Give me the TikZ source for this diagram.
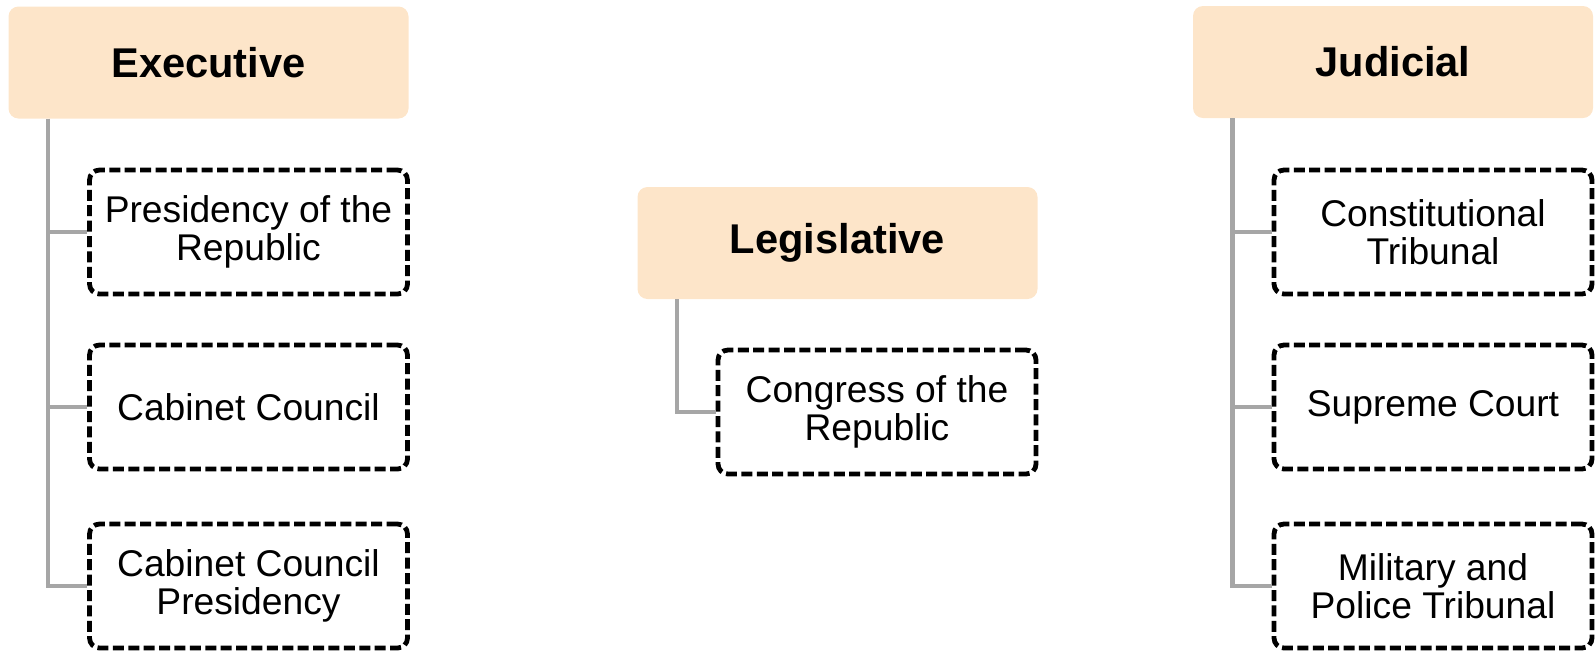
\documentclass[tikz,border=0pt]{standalone}
\usepackage{fontspec}
\setmainfont{Liberation Sans}
\definecolor{branchfill}{HTML}{FDE5C9}
\definecolor{linkgray}{HTML}{A6A6A6}
\tikzset{
  branch/.style={fill=branchfill, rounded corners=5pt, minimum width=200pt,
    minimum height=56pt, inner sep=0pt, font=\fontsize{20.8}{23}\selectfont\bfseries},
  organ/.style={draw=black, line width=2.4pt, dash pattern=on 5.5pt off 2.2pt,
    rounded corners=5pt, minimum width=159pt, minimum height=62pt, inner sep=0pt,
    align=center, font=\fontsize{18.6}{19.2}\selectfont},
  link/.style={draw=linkgray, line width=2.3pt},
}
\begin{document}
\begin{tikzpicture}[x=0.5pt, y=-0.5pt]
    \useasboundingbox (0,0) rectangle (1596,655);
    % branches
    \node[branch] (exec) at (208.5,62.5) {Executive};
    \node[branch] (legis) at (837.5,243) {Legislative};
    \node[branch] (judic) at (1393,62) {Judicial};
    % organs
    \node[organ] (pres) at (248.5,232) {Presidency of the\\Republic};
    \node[organ] (cab) at (248.5,407) {Cabinet Council};
    \node[organ] (cabpres) at (248.5,586) {Cabinet Council\\Presidency};
    \node[organ] (cong) at (877,412) {Congress of the\\Republic};
    \node[organ] (const) at (1433,232) {Constitutional\\Tribunal};
    \node[organ] (supr) at (1433,407) {Supreme Court};
    \node[organ] (milit) at (1433,586) {Military and\\Police Tribunal};
    % links
    \draw[link] ([xshift=20pt]exec.south west) |- (pres.west);
    \draw[link] ([xshift=20pt]exec.south west) |- (cab.west);
    \draw[link] ([xshift=20pt]exec.south west) |- (cabpres.west);
    \draw[link] ([xshift=20pt]legis.south west) |- (cong.west);
    \draw[link] ([xshift=20pt]judic.south west) |- (const.west);
    \draw[link] ([xshift=20pt]judic.south west) |- (supr.west);
    \draw[link] ([xshift=20pt]judic.south west) |- (milit.west);
  \end{tikzpicture}
\end{document}
